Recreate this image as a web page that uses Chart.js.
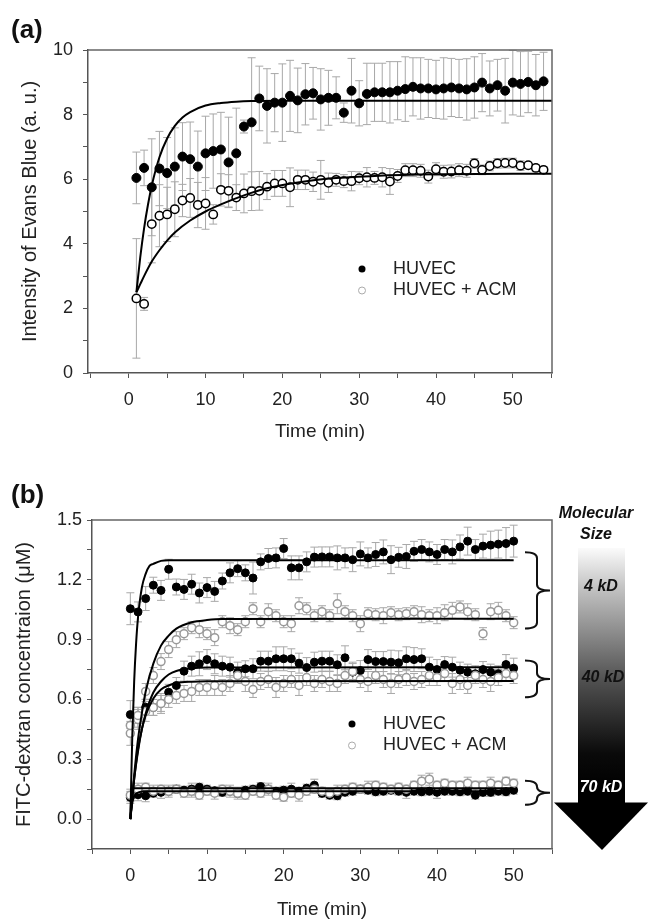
<!DOCTYPE html>
<html>
<head>
<meta charset="utf-8">
<script src="https://cdn.jsdelivr.net/npm/chart.js@4.4.1/dist/chart.umd.min.js"></script>
<style>
  html, body { margin: 0; padding: 0; background: #fff; overflow: hidden; }
  #wrapA { position: absolute; left: 0; top: 0; width: 649px; height: 445px; }
  #wrapB { position: absolute; left: 0; top: 445px; width: 649px; height: 474px; }
</style>
</head>
<body>
<div id="wrapA"><canvas id="chartA"></canvas></div>
<div id="wrapB"><canvas id="chartB"></canvas></div>
<script>
const FONT = '"Liberation Sans", Arial, sans-serif';

// ---------------- PANEL (a) DATA ----------------
const timeA = [1,2,3,4,5,6,7,8,9,10,11,12,13,14,15,16,17,18,19,20,21,22,23,24,25,26,27,
               28,29,30,31,32,33,34,35,36,37,38,39,40,41,42,43,44,45,46,47,48,49,50,51,52,53,54];
const huvecA = [6.04,6.35,5.75,6.33,6.19,6.39,6.70,6.62,6.39,6.80,
                6.87,6.92,6.52,6.80,7.63,7.76,8.50,8.27,8.37,8.37,
                8.58,8.44,8.63,8.66,8.47,8.52,8.52,8.06,8.74,8.35,
                8.64,8.69,8.69,8.69,8.74,8.79,8.86,8.81,8.81,8.78,
                8.81,8.84,8.81,8.78,8.84,8.99,8.81,8.91,8.74,8.99,
                8.95,9.01,8.91,9.03];
const huvecErrA = [0.8,0.55,1.5,1.15,1.1,1.2,1.05,1.15,1.1,1.15,
                   1.15,1.15,1.4,1.4,0.2,2.0,1.0,1.15,0.9,1.2,
                   1.1,1.0,0.95,0.8,0.95,0.85,0.65,0.3,1.0,0.7,
                   0.95,0.9,0.9,0.95,0.9,1.0,0.9,0.95,0.9,0.9,
                   0.95,0.9,0.9,0.95,0.95,0.9,0.85,0.8,1.0,1.0,
                   1.0,0.95,0.95,0.9];
const acmA = [2.31,2.14,4.61,4.87,4.91,5.07,5.34,5.42,5.20,5.25,
              4.91,5.67,5.64,5.43,5.56,5.63,5.64,5.77,5.87,5.87,
              5.75,5.98,5.98,5.92,5.98,5.89,5.98,5.94,5.94,6.03,
              6.06,6.04,6.06,5.93,6.10,6.28,6.28,6.26,6.08,6.31,
              6.23,6.24,6.28,6.26,6.49,6.29,6.41,6.49,6.50,6.50,
              6.42,6.43,6.35,6.29];
const acmErrA = [1.85,0.2,1.2,0.96,0.84,0.85,0.5,0.6,0.7,0.8,
                 0.3,0.5,0.5,0.4,0.6,0.6,0.6,0.4,0.4,0.4,
                 0.6,0.3,0.3,0.3,0.6,0.3,0.2,0.2,0.3,0.2,
                 0.3,0.2,0.3,0.4,0.2,0.2,0.2,0.2,0.2,0.2,
                 0.2,0.2,0.2,0.2,0.15,0.15,0.15,0.15,0.15,0.15,
                 0.15,0.1,0.1,0.1];
// fitted curves
const fitTimeHuvecA = [1, 1.5, 2, 2.5, 3, 4, 5, 6, 7, 8, 10, 12, 14, 16, 20, 55.1];
const fitHuvecA     = [2.5, 3.58, 4.48, 5.2, 5.8, 6.68, 7.26, 7.65, 7.91, 8.08, 8.28, 8.36, 8.4, 8.42, 8.43, 8.43];
const fitTimeAcmA   = [1, 1.5, 2, 3, 4, 5, 6, 8, 10, 12, 15, 18, 22, 26, 32, 40, 55.1];
const fitAcmA       = [2.5, 2.75, 3.0, 3.45, 3.8, 4.1, 4.35, 4.72, 5.0, 5.22, 5.5, 5.72, 5.9, 6.02, 6.1, 6.15, 6.17];

const xTicks  = [-5, 0, 5, 10, 15, 20, 25, 30, 35, 40, 45, 50, 55];
const xLabels = [0, 10, 20, 30, 40, 50];
const yTicksA  = [0, 1, 2, 3, 4, 5, 6, 7, 8, 9, 10];
const yLabelsA = [0, 2, 4, 6, 8, 10];

// ---------------- PANEL (b) DATA ----------------
const timeB = [0,1,2,3,4,5,6,7,8,9,10,11,12,13,14,15,16,17,18,19,20,21,22,23,24,25,
               26,27,28,29,30,31,32,33,34,35,36,37,38,39,40,41,42,43,44,45,46,47,48,49,50];
const huvec4 = [1.055,1.039,1.106,1.173,1.147,1.253,1.164,1.152,1.178,1.134,
                1.161,1.142,1.194,1.235,1.256,1.235,1.209,1.290,1.307,1.310,
                1.357,1.260,1.260,1.290,1.314,1.315,1.315,1.310,1.310,1.301,
                1.330,1.310,1.327,1.340,1.301,1.313,1.317,1.343,1.352,1.340,
                1.327,1.352,1.340,1.365,1.394,1.352,1.369,1.374,1.379,1.382,1.394];
const huvec4Err = [0.08,0.05,0.06,0.04,0.05,0.05,0.04,0.05,0.05,0.05,
                   0.05,0.05,0.04,0.05,0.04,0.04,0.08,0.04,0.05,0.05,
                   0.05,0.06,0.06,0.05,0.05,0.05,0.05,0.06,0.05,0.06,
                   0.06,0.05,0.06,0.06,0.07,0.05,0.06,0.05,0.05,0.05,
                   0.05,0.05,0.06,0.06,0.07,0.05,0.06,0.07,0.07,0.08,0.08];
const acm4 = [0.47,0.52,0.64,0.72,0.79,0.85,0.90,0.93,0.96,0.95,
              0.93,0.91,0.99,0.97,0.95,0.99,1.055,0.99,1.04,1.02,
              0.99,0.98,1.07,1.055,1.02,1.04,1.02,1.08,1.04,1.02,
              0.98,1.03,1.025,1.02,1.035,1.025,1.03,1.04,1.025,1.02,
              1.02,1.035,1.047,1.064,1.04,1.025,0.93,1.04,1.047,1.02,0.985];
const acm4Err = [0.05,0.04,0.04,0.04,0.04,0.04,0.04,0.03,0.03,0.04,
                 0.03,0.04,0.03,0.04,0.03,0.03,0.03,0.03,0.04,0.03,
                 0.03,0.04,0.04,0.03,0.03,0.03,0.03,0.05,0.03,0.03,
                 0.04,0.03,0.03,0.04,0.03,0.03,0.03,0.03,0.04,0.03,
                 0.04,0.04,0.04,0.03,0.04,0.03,0.03,0.04,0.04,0.03,0.03];
const huvec40 = [0.524,0.511,0.561,0.56,0.58,0.636,0.67,0.742,0.767,0.779,
                 0.80,0.779,0.767,0.762,0.737,0.754,0.754,0.792,0.792,0.804,
                 0.804,0.804,0.782,0.76,0.787,0.792,0.792,0.774,0.809,0.737,
                 0.745,0.80,0.79,0.79,0.787,0.784,0.804,0.80,0.804,0.762,
                 0.75,0.775,0.762,0.747,0.737,0.729,0.75,0.737,0.729,0.775,0.757];
const huvec40Err = [0.07,0.05,0.04,0.04,0.04,0.04,0.04,0.05,0.05,0.06,
                    0.05,0.05,0.05,0.05,0.05,0.04,0.05,0.05,0.05,0.06,
                    0.06,0.05,0.05,0.05,0.05,0.05,0.05,0.05,0.06,0.05,
                    0.05,0.05,0.05,0.05,0.06,0.06,0.06,0.06,0.05,0.05,
                    0.05,0.04,0.05,0.04,0.04,0.04,0.04,0.04,0.04,0.05,0.05];
const acm40 = [0.43,0.50,0.54,0.56,0.58,0.60,0.62,0.63,0.64,0.66,
               0.66,0.67,0.66,0.68,0.72,0.69,0.65,0.69,0.70,0.66,
               0.68,0.70,0.67,0.71,0.68,0.70,0.69,0.68,0.72,0.74,
               0.70,0.69,0.72,0.70,0.68,0.70,0.71,0.69,0.70,0.72,
               0.71,0.73,0.68,0.70,0.67,0.72,0.70,0.69,0.71,0.73,0.72];
const acm40Err = [0.06,0.05,0.05,0.04,0.05,0.04,0.04,0.04,0.05,0.04,
                  0.04,0.05,0.04,0.04,0.04,0.05,0.04,0.04,0.04,0.05,
                  0.04,0.04,0.05,0.04,0.04,0.04,0.05,0.04,0.04,0.04,
                  0.04,0.05,0.04,0.04,0.05,0.04,0.04,0.04,0.04,0.05,
                  0.04,0.04,0.05,0.05,0.04,0.04,0.04,0.05,0.04,0.04,0.04];
const huvec70 = [0.109,0.122,0.117,0.13,0.134,0.14,0.15,0.145,0.15,0.16,
                 0.15,0.142,0.134,0.14,0.129,0.145,0.15,0.163,0.15,0.14,
                 0.145,0.15,0.14,0.155,0.17,0.129,0.12,0.117,0.135,0.14,
                 0.15,0.145,0.137,0.14,0.145,0.14,0.134,0.14,0.137,0.14,
                 0.134,0.14,0.14,0.137,0.14,0.12,0.134,0.134,0.14,0.137,0.145];
const huvec70Err = [0.03,0.03,0.03,0.02,0.03,0.02,0.02,0.02,0.03,0.02,
                    0.02,0.02,0.02,0.03,0.02,0.02,0.02,0.02,0.02,0.02,
                    0.02,0.03,0.02,0.02,0.03,0.02,0.02,0.02,0.02,0.02,
                    0.02,0.02,0.02,0.02,0.02,0.02,0.03,0.02,0.02,0.02,
                    0.03,0.02,0.02,0.02,0.02,0.02,0.02,0.02,0.02,0.02,0.02];
const acm70 = [0.12,0.15,0.16,0.14,0.15,0.14,0.15,0.13,0.14,0.12,
               0.14,0.13,0.15,0.14,0.13,0.12,0.14,0.13,0.15,0.12,
               0.11,0.13,0.12,0.14,0.15,0.14,0.13,0.14,0.15,0.16,
               0.15,0.16,0.17,0.16,0.15,0.16,0.15,0.17,0.19,0.20,
               0.17,0.18,0.17,0.17,0.18,0.17,0.17,0.18,0.17,0.19,0.18];
const acm70Err = [0.03,0.03,0.02,0.03,0.02,0.03,0.02,0.02,0.03,0.02,
                  0.02,0.03,0.02,0.02,0.03,0.02,0.02,0.02,0.03,0.02,
                  0.02,0.02,0.03,0.02,0.02,0.02,0.02,0.03,0.02,0.02,
                  0.02,0.03,0.02,0.02,0.02,0.02,0.02,0.02,0.03,0.03,
                  0.02,0.02,0.02,0.02,0.03,0.02,0.02,0.03,0.02,0.02,0.02];
// fitted curves (b)
const fitTime4H   = [0, 0.25, 0.5, 0.75, 1, 1.5, 2, 2.5, 3, 4, 5, 50];
const fitHuvec4   = [0, 0.41, 0.69, 0.88, 1.01, 1.16, 1.23, 1.27, 1.28, 1.295, 1.298, 1.298];
const fitTime4A   = [0, 0.5, 1, 1.5, 2, 3, 4, 5, 6, 8, 10, 12, 50];
const fitAcm4     = [0, 0.22, 0.40, 0.53, 0.64, 0.78, 0.87, 0.92, 0.955, 0.987, 0.998, 1.003, 1.005];
const fitTime40   = [0, 0.5, 1, 1.5, 2, 3, 4, 5, 6, 8, 10, 50];
const fitHuvec40  = [0, 0.20, 0.34, 0.45, 0.53, 0.635, 0.69, 0.725, 0.743, 0.756, 0.76, 0.762];
const fitAcm40    = [0, 0.20, 0.35, 0.45, 0.52, 0.605, 0.65, 0.67, 0.682, 0.689, 0.691, 0.692];
const fitTime70H  = [0, 0.25, 0.5, 1, 1.5, 2, 50];
const fitHuvec70  = [0, 0.08, 0.115, 0.133, 0.138, 0.14, 0.14];
const fitTime70A  = [0, 0.15, 0.3, 0.5, 50];
const fitAcm70    = [0, 0.12, 0.148, 0.155, 0.155];

const yTicksB  = [-0.15, 0, 0.15, 0.3, 0.45, 0.6, 0.75, 0.9, 1.05, 1.2, 1.35, 1.5];
const yLabelsB = [0, 0.3, 0.6, 0.9, 1.2, 1.5];

const seriesNames = ['HUVEC', 'HUVEC + ACM'];
const sizeLabels = ['4 kD', '40 kD', '70 kD'];
// y ranges covered by each bracket (b)
const braceRanges = [[1.338, 0.956], [0.795, 0.611], [0.192, 0.072]];

// ---------------- HELPERS ----------------
const pts = (xs, ys) => xs.map((x, i) => ({ x: x, y: ys[i] }));
const near = (arr, v) => arr.some(a => Math.abs(a - v) < 1e-6);

function fitLine(xs, ys) {
    return { data: pts(xs, ys), showLine: true, pointRadius: 0, borderColor: '#000',
             borderWidth: 2, cubicInterpolationMode: 'monotone', order: 0 };
}
function filled(xs, ys, err, r) {
    return { data: pts(xs, ys), errors: err, errColor: '#a8a8a8', pointRadius: r,
             backgroundColor: '#000', borderColor: '#000', borderWidth: 1, order: 2 };
}
function open(xs, ys, err, r, edge) {
    return { data: pts(xs, ys), errors: err, errColor: '#a8a8a8', pointRadius: r,
             backgroundColor: '#fff', borderColor: edge, borderWidth: 1.5, order: 1 };
}

// error bars under the markers
const errorBars = {
    id: 'errorBars',
    beforeDatasetsDraw(chart) {
        const { ctx, scales: { x, y } } = chart;
        ctx.save();
        ctx.lineWidth = 1;
        chart.data.datasets.forEach(ds => {
            if (!ds.errors) return;
            ctx.strokeStyle = ds.errColor;
            ds.data.forEach((p, j) => {
                const e = ds.errors[j];
                const px = x.getPixelForValue(p.x);
                const t = y.getPixelForValue(p.y + e), b = y.getPixelForValue(p.y - e);
                ctx.beginPath();
                ctx.moveTo(px, t); ctx.lineTo(px, b);
                ctx.moveTo(px - 4, t); ctx.lineTo(px + 4, t);
                ctx.moveTo(px - 4, b); ctx.lineTo(px + 4, b);
                ctx.stroke();
            });
        });
        ctx.restore();
    }
};

// top and right sides of the frame
const frame = {
    id: 'frame',
    afterDraw(chart) {
        const { ctx, chartArea: a } = chart;
        ctx.save();
        ctx.strokeStyle = '#666';
        ctx.lineWidth = 1.5;
        ctx.beginPath();
        ctx.moveTo(a.left, a.top); ctx.lineTo(a.right, a.top); ctx.lineTo(a.right, a.bottom);
        ctx.stroke();
        ctx.restore();
    }
};

function panelDecor(letter, ly, legX, legY) {
    return {
        id: 'decor' + letter,
        afterDraw(chart) {
            const ctx = chart.ctx;
            ctx.save();
            ctx.fillStyle = '#111';
            ctx.font = 'bold 26px ' + FONT;
            ctx.textBaseline = 'alphabetic';
            ctx.fillText('(' + letter + ')', 11, ly);
            // legend
            ctx.font = '18px ' + FONT;
            ctx.textBaseline = 'middle';
            seriesNames.forEach((name, i) => {
                const yy = legY + i * 21.5;
                ctx.beginPath();
                ctx.arc(legX, yy, 3.5, 0, Math.PI * 2);
                if (i === 0) { ctx.fillStyle = '#000'; ctx.fill(); }
                else { ctx.strokeStyle = '#aaa'; ctx.lineWidth = 1; ctx.stroke(); }
                ctx.fillStyle = '#222';
                ctx.fillText(name, legX + 31, yy);
            });
            ctx.restore();
        }
    };
}

// brackets and the molecular size arrow (b)
const sizeArrow = {
    id: 'sizeArrow',
    afterDraw(chart) {
        const { ctx, chartArea: a, scales: { y } } = chart;
        ctx.save();
        ctx.strokeStyle = '#111';
        ctx.lineWidth = 2;
        const x0 = a.right - 27, x1 = a.right - 15, x2 = a.right - 2;
        braceRanges.forEach(([hi, lo]) => {
            const t = y.getPixelForValue(hi), b = y.getPixelForValue(lo), m = (t + b) / 2;
            const r = Math.min(6, (b - t) / 4);
            ctx.beginPath();
            ctx.moveTo(x0, t);
            ctx.quadraticCurveTo(x1, t, x1, t + r);
            ctx.lineTo(x1, m - r);
            ctx.quadraticCurveTo(x1, m, x2, m);
            ctx.quadraticCurveTo(x1, m, x1, m + r);
            ctx.lineTo(x1, b - r);
            ctx.quadraticCurveTo(x1, b, x0, b);
            ctx.stroke();
        });
        // arrow
        const cx = 602, top = 103, shaft = 358, tip = 405;
        const g = ctx.createLinearGradient(0, top, 0, 345);
        g.addColorStop(0, '#fbfbfb');
        g.addColorStop(0.16, '#c4c4c4');
        g.addColorStop(0.55, '#505050');
        g.addColorStop(0.85, '#0a0a0a');
        g.addColorStop(1, '#000000');
        ctx.fillStyle = g;
        ctx.fillRect(578, top, 47, shaft - top);
        ctx.fillStyle = '#000';
        ctx.beginPath();
        ctx.moveTo(554, shaft - 0.5); ctx.lineTo(648, shaft - 0.5); ctx.lineTo(cx, tip);
        ctx.closePath(); ctx.fill();
        ctx.textAlign = 'center';
        ctx.textBaseline = 'middle';
        ctx.font = 'italic bold 16px ' + FONT;
        ctx.fillStyle = '#111';
        ctx.fillText('Molecular', 596, 69);
        ctx.fillText('Size', 596, 90);
        ctx.fillText(sizeLabels[0], 601, 142);
        ctx.fillText(sizeLabels[1], 603, 233);
        ctx.fillStyle = '#fff';
        ctx.fillText(sizeLabels[2], 601, 343);
        ctx.restore();
    }
};

function axisCommon() {
    return {
        type: 'linear',
        grid: { drawOnChartArea: false, drawTicks: true, tickLength: 5, color: '#555', lineWidth: 1 },
        border: { display: true, color: '#555', width: 1.5 },
    };
}

Chart.defaults.font.family = FONT;
Chart.defaults.color = '#222';

// ---------------- PANEL (a) ----------------
new Chart(document.getElementById('chartA'), {
    type: 'scatter',
    data: {
        datasets: [
            fitLine(fitTimeHuvecA, fitHuvecA),
            fitLine(fitTimeAcmA, fitAcmA),
            open(timeA, acmA, acmErrA, 4.2, '#000'),
            filled(timeA, huvecA, huvecErrA, 4.5)
        ]
    },
    options: {
        responsive: true, maintainAspectRatio: false, animation: false, devicePixelRatio: 1,
        layout: { padding: { left: 14, right: 97, top: 50, bottom: 0 } },
        plugins: { legend: { display: false }, tooltip: { enabled: false } },
        scales: {
            x: Object.assign(axisCommon(), {
                min: -5.3, max: 55.1,
                afterBuildTicks: s => { s.ticks = xTicks.map(v => ({ value: v })); },
                afterFit: s => { s.height = 72; },
                ticks: { padding: 11, autoSkip: false, maxRotation: 0, font: { size: 18 },
                         callback: v => near(xLabels, v) ? String(v) : '' },
                title: { display: true, text: 'Time (min)', font: { size: 19, lineHeight: 1 },
                         padding: { top: 0, bottom: 3.5 } }
            }),
            y: Object.assign(axisCommon(), {
                min: 0, max: 10,
                afterBuildTicks: s => { s.ticks = yTicksA.map(v => ({ value: v })); },
                afterFit: s => { s.width = 74; },
                ticks: { padding: 10, autoSkip: false, font: { size: 18 },
                         callback: v => near(yLabelsA, v) ? String(v) : '' },
                title: { display: true, text: 'Intensity of Evans Blue (a. u.)', font: { size: 20 },
                         padding: { top: 4, bottom: 4 } }
            })
        }
    },
    plugins: [errorBars, frame, panelDecor('a', 38, 362, 269)]
});

// ---------------- PANEL (b) ----------------
new Chart(document.getElementById('chartB'), {
    type: 'scatter',
    data: {
        datasets: [
            fitLine(fitTime4H, fitHuvec4),
            fitLine(fitTime4A, fitAcm4),
            fitLine(fitTime40, fitHuvec40),
            fitLine(fitTime40, fitAcm40),
            fitLine(fitTime70H, fitHuvec70),
            fitLine(fitTime70A, fitAcm70),
            open(timeB, acm4, acm4Err, 4, '#999'),
            open(timeB, acm40, acm40Err, 4, '#999'),
            open(timeB, acm70, acm70Err, 4, '#999'),
            filled(timeB, huvec4, huvec4Err, 4),
            filled(timeB, huvec40, huvec40Err, 4),
            filled(timeB, huvec70, huvec70Err, 4)
        ]
    },
    options: {
        responsive: true, maintainAspectRatio: false, animation: false, devicePixelRatio: 1,
        layout: { padding: { left: 8, right: 97, top: 75, bottom: 0 } },
        plugins: { legend: { display: false }, tooltip: { enabled: false } },
        scales: {
            x: Object.assign(axisCommon(), {
                min: -5, max: 55,
                afterBuildTicks: s => { s.ticks = xTicks.map(v => ({ value: v })); },
                afterFit: s => { s.height = 70; },
                ticks: { padding: 11, autoSkip: false, maxRotation: 0, font: { size: 18 },
                         callback: v => near(xLabels, v) ? String(v) : '' },
                title: { display: true, text: 'Time (min)', font: { size: 19, lineHeight: 1 },
                         padding: { top: 0, bottom: 0 } }
            }),
            y: Object.assign(axisCommon(), {
                min: -0.15, max: 1.5,
                afterBuildTicks: s => { s.ticks = yTicksB.map(v => ({ value: v })); },
                afterFit: s => { s.width = 84; },
                ticks: { padding: 5, autoSkip: false, font: { size: 18 },
                         callback: v => near(yLabelsB, v) ? v.toFixed(1) : '' },
                title: { display: true, text: 'FITC-dextran concentraion (\u03bcM)', font: { size: 20 },
                         padding: { top: 4, bottom: 4 } }
            })
        }
    },
    plugins: [errorBars, frame, panelDecor('b', 58, 352, 279), sizeArrow]
});
</script>
</body>
</html>
